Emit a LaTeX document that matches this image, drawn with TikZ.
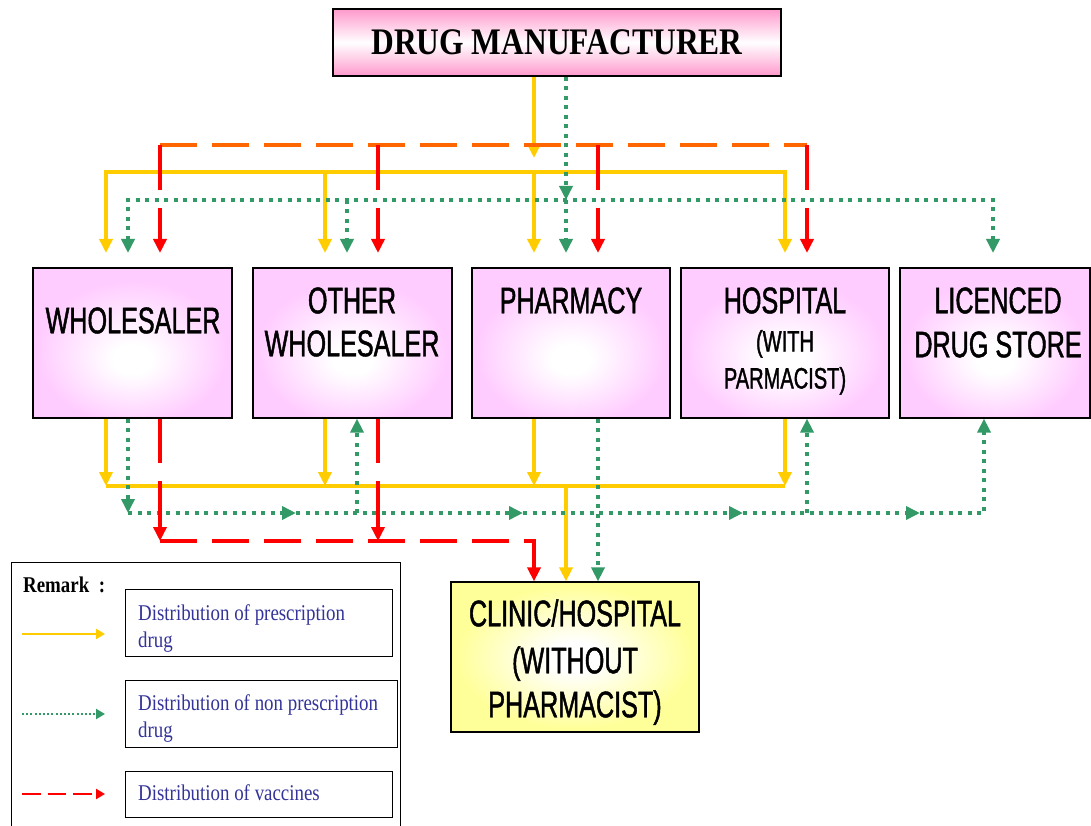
\documentclass[tikz,border=0pt]{standalone}
\usepackage{fontspec}
\setmainfont{Liberation Serif}
\newfontfamily\narrowsans[FakeStretch=0.68, FakeBold=1.2]{Liberation Sans}
\newfontfamily\narrowserif[FakeStretch=0.84]{Liberation Serif}
\usetikzlibrary{arrows.meta}

\definecolor{prescY}{HTML}{FFCC00}
\definecolor{nonpG}{HTML}{339966}
\definecolor{vaccR}{HTML}{FF0000}
\definecolor{vaccO}{HTML}{FF6600}
\definecolor{makerPink}{HTML}{FF99CC}
\definecolor{legendBlue}{HTML}{333399}

% soft glow fills for the boxes
\pgfdeclareradialshading{pinkglow}{\pgfpoint{0bp}{-6bp}}{rgb(0bp)=(1,1,1); rgb(5bp)=(1,1,1); rgb(24bp)=(1,0.8,1); rgb(50bp)=(1,0.8,1)}
\pgfdeclareradialshading{yellowglow}{\pgfpoint{0bp}{0bp}}{rgb(0bp)=(1,1,1); rgb(5bp)=(1,1,1); rgb(24bp)=(1,1,0.6); rgb(50bp)=(1,1,0.6)}

\tikzset{
  conn/.style={line width=4pt},
  presc/.style={conn, draw=prescY},
  nonp/.style={conn, draw=nonpG, dash pattern=on 4pt off 5.5pt},
  vacc/.style={conn, draw=vaccR},
  vaccdash/.style={conn, draw=vaccR, dash pattern=on 37pt off 15pt},
  vacctop/.style={conn, draw=vaccO, dash pattern=on 37pt off 15pt},
  headend/.style={-{Triangle[width=13pt,length=14pt]}},
  headboth/.style={{Triangle[width=13pt,length=14pt]}-{Triangle[width=13pt,length=14pt]}},
  makerbox/.style={draw=black, line width=1.3pt, top color=makerPink, bottom color=makerPink, middle color=white,
    minimum width=448pt, minimum height=67pt, inner sep=0pt,
    font=\narrowserif\bfseries\fontsize{37.5}{37.5}\selectfont, text height=24.8pt, text depth=0pt},
  outletbox/.style={draw=black, line width=1.2pt, shading=pinkglow, minimum height=150pt, inner sep=0pt},
  clinicbox/.style={draw=black, line width=1.2pt, shading=yellowglow, minimum width=248pt, minimum height=150pt, inner sep=0pt},
  biglabel/.style={font=\narrowsans\fontsize{37}{37}\selectfont, inner sep=0pt, text height=26.5pt, text depth=0pt},
  smalllabel/.style={font=\narrowsans\fontsize{29.5}{29.5}\selectfont, inner sep=0pt, text height=21pt, text depth=0pt},
  legendframe/.style={draw=black, line width=1pt, inner sep=0pt},
  legendbox/.style={draw=black, line width=1pt, inner sep=0pt},
  legendtext/.style={font=\narrowserif\fontsize{22.5}{27}\selectfont, text=legendBlue, inner sep=0pt, anchor=base west},
  remarktext/.style={font=\narrowserif\bfseries\fontsize{22.5}{27}\selectfont, inner sep=0pt, anchor=base west},
  legY/.style={draw=prescY, line width=2.5pt, -{Triangle[width=10pt,length=9pt]}},
  legG/.style={draw=nonpG, line width=2.2pt, dash pattern=on 2pt off 2.2pt, -{Triangle[width=10pt,length=9pt]}},
  legR/.style={draw=vaccR, line width=2.5pt, dash pattern=on 18.5pt off 7pt, -{Triangle[width=10pt,length=9pt]}},
}

\begin{document}
\begin{tikzpicture}[x=1pt, y=-1pt]
\useasboundingbox (0,0) rectangle (1091,826);

% ---------- boxes ----------
\node[makerbox] (maker) at (557,42.5) {DRUG MANUFACTURER};

\node[outletbox, minimum width=199pt] (wholesaler) at (132.5,343) {};
\node[outletbox, minimum width=199pt] (other)      at (352.5,343) {};
\node[outletbox, minimum width=198pt] (pharmacy)   at (571,343)   {};
\node[outletbox, minimum width=208pt] (hospital)   at (785,343)   {};
\node[outletbox, minimum width=190pt] (store)      at (995,343)   {};
\node[clinicbox] (clinic) at (575,657) {};

% ---------- box texts ----------
\node[biglabel] (wholesaler-l1) at (133,320) {WHOLESALER};
\node[biglabel] (other-l1) at (352,300) {OTHER};
\node[biglabel] (other-l2) at (352,343) {WHOLESALER};
\node[biglabel] (pharmacy-l1) at (571,300) {PHARMACY};
\node[biglabel] (hospital-l1) at (785,300) {HOSPITAL};
\node[smalllabel] (hospital-l2) at (785,341) {(WITH};
\node[smalllabel] (hospital-l3) at (785,378) {PARMACIST)};
\node[biglabel] (store-l1) at (998,300) {LICENCED};
\node[biglabel] (store-l2) at (998,344) {DRUG STORE};
\node[biglabel] (clinic-l1) at (575,613) {CLINIC/HOSPITAL};
\node[biglabel] (clinic-l2) at (575,660) {(WITHOUT};
\node[biglabel] (clinic-l3) at (575,704) {PHARMACIST)};

% ---------- levels of the bus lines ----------
\coordinate (orangeBus) at (0,145);
\coordinate (yellowBus) at (0,172);
\coordinate (greenBus)  at (0,200);
\coordinate (makerStop) at (0,158);
\coordinate (gapTopA)   at (0,190);
\coordinate (gapTopB)   at (0,208);
\coordinate (arrowTop)  at (0,253);
\coordinate (yellowBusB) at (0,486);
\coordinate (greenBusB)  at (0,513);
\coordinate (redBusB)    at (0,541);
\coordinate (gapBotA)    at (0,463);
\coordinate (gapBotB)    at (0,481);

% ---------- ports on the boxes ----------
\coordinate (mY) at ([xshift=-23pt]maker.south);
\coordinate (mG) at ([xshift=9pt]maker.south);

\coordinate (wYt) at ([xshift=-26.5pt]wholesaler.north);
\coordinate (wGt) at ([xshift=-4.5pt]wholesaler.north);
\coordinate (wRt) at ([xshift=27.5pt]wholesaler.north);
\coordinate (oYt) at ([xshift=-27.5pt]other.north);
\coordinate (oGt) at ([xshift=-5.5pt]other.north);
\coordinate (oRt) at ([xshift=25.5pt]other.north);
\coordinate (pYt) at ([xshift=-37pt]pharmacy.north);
\coordinate (pGt) at ([xshift=-5pt]pharmacy.north);
\coordinate (pRt) at ([xshift=27pt]pharmacy.north);
\coordinate (hYt) at (hospital.north);
\coordinate (hRt) at ([xshift=22pt]hospital.north);
\coordinate (sGt) at ([xshift=-2pt]store.north);

\coordinate (wYb) at ([xshift=-26.5pt]wholesaler.south);
\coordinate (wGb) at ([xshift=-4.5pt]wholesaler.south);
\coordinate (wRb) at ([xshift=27.5pt]wholesaler.south);
\coordinate (oYb) at ([xshift=-27.5pt]other.south);
\coordinate (oGb) at ([xshift=4.5pt]other.south);
\coordinate (oRb) at ([xshift=25.5pt]other.south);
\coordinate (pYb) at ([xshift=-37pt]pharmacy.south);
\coordinate (pGb) at ([xshift=27pt]pharmacy.south);
\coordinate (hYb) at (hospital.south);
\coordinate (hGb) at ([xshift=22pt]hospital.south);
\coordinate (sGb) at ([xshift=-11pt]store.south);

\coordinate (cR) at ([xshift=-41pt]clinic.north);
\coordinate (cY) at ([xshift=-9pt]clinic.north);
\coordinate (cG) at ([xshift=23pt]clinic.north);

% arrow marks along the lower green line
\coordinate (gMark1) at (296,513);
\coordinate (gMark2) at (523,513);
\coordinate (gMark3) at (743,513);
\coordinate (gMark4) at (920,513);

% ---------- prescription drugs (upper) ----------
\draw[presc, headend] (mY) -- (mY |- makerStop);
\draw[presc, headboth] (wYt |- arrowTop) -- (wYt |- yellowBus) -- (hYt |- yellowBus) -- (hYt |- arrowTop);
\draw[presc, headend] (oYt |- yellowBus) -- (oYt |- arrowTop);
\draw[presc, headend] (pYt |- yellowBus) -- (pYt |- arrowTop);

% ---------- vaccines (upper) ----------
\draw[vacctop] (wRt |- orangeBus) -- (hRt |- orangeBus);

% ---------- non prescription drugs (upper) ----------
\draw[nonp, headend] (mG) -- (mG |- greenBus);
\draw[nonp, headboth] (wGt |- arrowTop) -- (wGt |- greenBus) -- (sGt |- greenBus) -- (sGt |- arrowTop);
\draw[nonp, headend] (oGt |- greenBus) -- (oGt |- arrowTop);
\draw[nonp, headend] (pGt |- greenBus) -- (pGt |- arrowTop);

% red drops, broken where they pass the green line
\foreach \port in {wRt, oRt, pRt, hRt} {
  \draw[vacc] (\port |- orangeBus) -- (\port |- gapTopA);
  \draw[vacc, headend] (\port |- gapTopB) -- (\port |- arrowTop);
}

% ---------- prescription drugs (lower) ----------
\foreach \port in {wYb, oYb, pYb, hYb}
  \draw[presc, headend] (\port) -- (\port |- yellowBusB);
\draw[presc] (wYb |- yellowBusB) -- (hYb |- yellowBusB);
\draw[presc, headend] (cY |- yellowBusB) -- (cY);

% ---------- non prescription drugs (lower) ----------
\draw[nonp, headend] (wGb) -- (wGb |- greenBusB);
\draw[nonp, headend] (wGb |- greenBusB) -- (gMark1);
\draw[nonp, headend] (gMark1) -- (gMark2);
\draw[nonp, headend] (gMark2) -- (gMark3);
\draw[nonp, headend] (gMark3) -- (gMark4);
\draw[nonp, headend] (gMark4) -- (sGb |- greenBusB) -- (sGb);
\draw[nonp, headend] (oGb |- greenBusB) -- (oGb);
\draw[nonp, headend] (hGb |- greenBusB) -- (hGb);
\draw[nonp, headend] (pGb) -- (cG);

% ---------- vaccines (lower) ----------
\foreach \port in {wRb, oRb} {
  \draw[vacc] (\port) -- (\port |- gapBotA);
  \draw[vacc, headend] (\port |- gapBotB) -- (\port |- redBusB);
}
\draw[vaccdash] (wRb |- redBusB) -- (cR |- redBusB);
\draw[vacc, headend] ([xshift=-2pt]cR |- redBusB) -- (cR |- redBusB) -- (cR);

% ---------- remark panel ----------
\node[legendframe, minimum width=389pt, minimum height=300pt, anchor=north west] (legend) at (11,562) {};
\node[remarktext] (remark) at (23,592) {Remark~~:};

\node[legendbox, minimum width=267pt, minimum height=67pt] (key1) at (258.5,622.5) {};
\node[legendbox, minimum width=272pt, minimum height=67pt] (key2) at (261,713.5) {};
\node[legendbox, minimum width=267pt, minimum height=46pt] (key3) at (258.5,794) {};

\node[legendtext] (key1-l1) at (138,620) {Distribution of prescription};
\node[legendtext] (key1-l2) at (138,647) {drug};
\node[legendtext] (key2-l1) at (138,710) {Distribution of non prescription};
\node[legendtext] (key2-l2) at (138,737) {drug};
\node[legendtext] (key3-l1) at (138,800) {Distribution of vaccines};

\coordinate (sw1a) at (22,634);  \coordinate (sw1b) at (105,634);
\coordinate (sw2a) at (22,714);  \coordinate (sw2b) at (105,714);
\coordinate (sw3a) at (22,794);  \coordinate (sw3b) at (105,794);
\draw[legY] (sw1a) -- (sw1b);
\draw[legG] (sw2a) -- (sw2b);
\draw[legR] (sw3a) -- (sw3b);
\end{tikzpicture}
\end{document}
